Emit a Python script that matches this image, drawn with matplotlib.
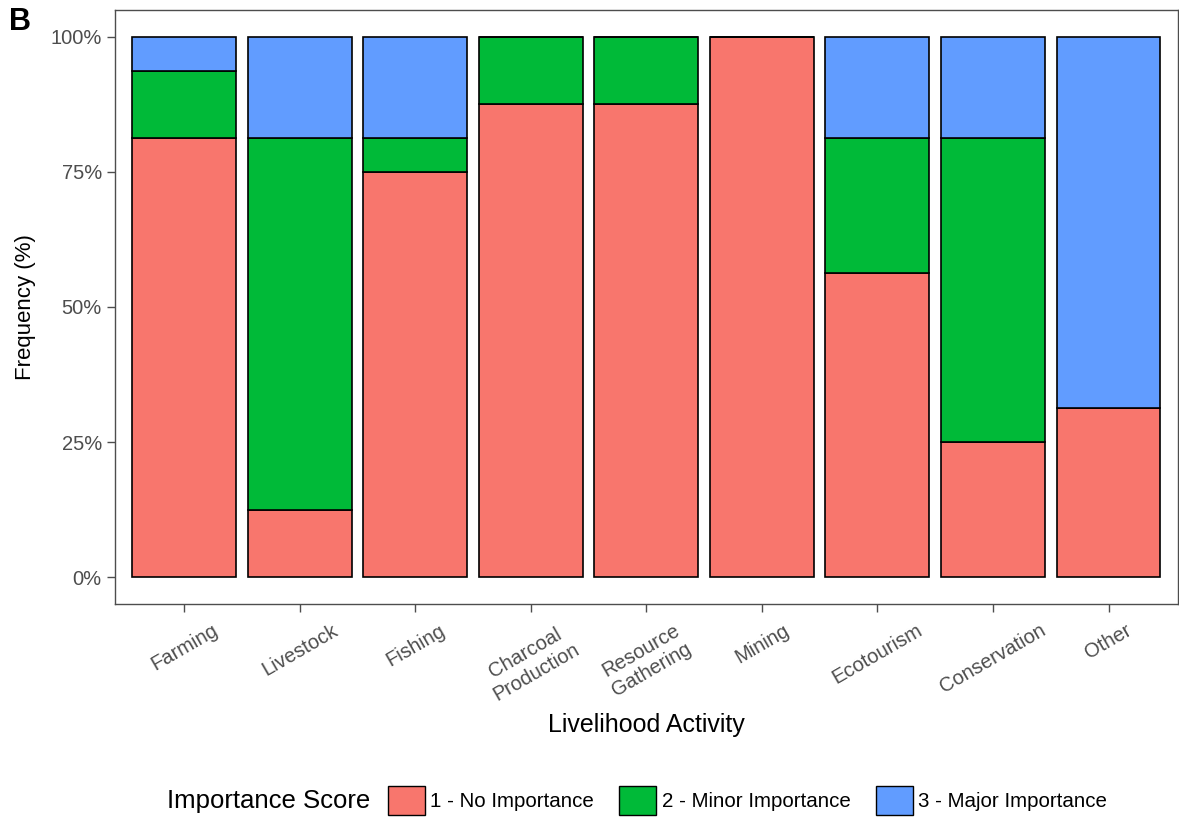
import matplotlib.pyplot as plt
from matplotlib.patches import Patch
import numpy as np

plt.rcParams['font.family'] = ['Liberation Sans', 'DejaVu Sans']

# share of respondents (%) per importance score, n = 16 per activity
activities = ["Farming", "Livestock", "Fishing", "Charcoal\nProduction", "Resource\nGathering",
              "Mining", "Ecotourism", "Conservation", "Other"]
no_importance    = [81.25, 12.50, 75.00, 87.50, 87.50, 100.0, 56.25, 25.00, 31.25]
minor_importance = [12.50, 68.75,  6.25, 12.50, 12.50,   0.0, 25.00, 56.25,  0.00]
major_importance = [ 6.25, 18.75, 18.75,  0.00,  0.00,   0.0, 18.75, 18.75, 68.75]

score_labels = ["1 - No Importance", "2 - Minor Importance", "3 - Major Importance"]
score_colors = ["#F8766D", "#00BA38", "#619CFF"]

fig = plt.figure(figsize=(11.79, 8.18), dpi=100)
ax = fig.add_axes([0.0975, 0.2616, 0.9015, 0.7262])

x = np.arange(1, len(activities) + 1)
bottom = np.zeros(len(activities))
for vals, col in zip([no_importance, minor_importance, major_importance], score_colors):
    vals = np.array(vals)
    ax.bar(x, vals, width=0.9, bottom=bottom, color=col, edgecolor="black", linewidth=1.2)
    bottom += vals

ax.set_xlim(0.4, len(activities) + 0.6)
ax.set_ylim(-5, 105)
ax.set_yticks([0, 25, 50, 75, 100])
ax.set_yticklabels(["0%", "25%", "50%", "75%", "100%"])
ax.set_xticks(x)
ax.set_xticklabels(activities, rotation=30, ha="center", va="top", multialignment="center")

for s in ax.spines.values():
    s.set_color("#4d4d4d")
    s.set_linewidth(1.0)
ax.tick_params(axis="both", colors="#4d4d4d", length=6, width=1.0, labelsize=14.5,
               labelcolor="#4d4d4d")
ax.tick_params(axis="x", pad=6)

ax.set_xlabel("Livelihood Activity", fontsize=18, labelpad=6)
ax.set_ylabel("Frequency (%)", fontsize=16, labelpad=10)

fig.text(0.008, 0.973, "B", fontsize=22, fontweight="bold", va="center", ha="left")

# legend along the bottom, title to the left of the keys
fig.text(0.142, 0.021, "Importance Score", fontsize=18.5, va="center", ha="left")
handles = [Patch(facecolor=c, edgecolor="black", linewidth=1.0) for c in score_colors]
fig.legend(handles, score_labels, loc="center left", bbox_to_anchor=(0.329, 0.021), ncol=3,
           frameon=False, fontsize=14.8, handlelength=1.8, handleheight=1.8,
           handletextpad=0.25, columnspacing=1.25, borderaxespad=0, borderpad=0)

fig.savefig("out.png", dpi=100)
